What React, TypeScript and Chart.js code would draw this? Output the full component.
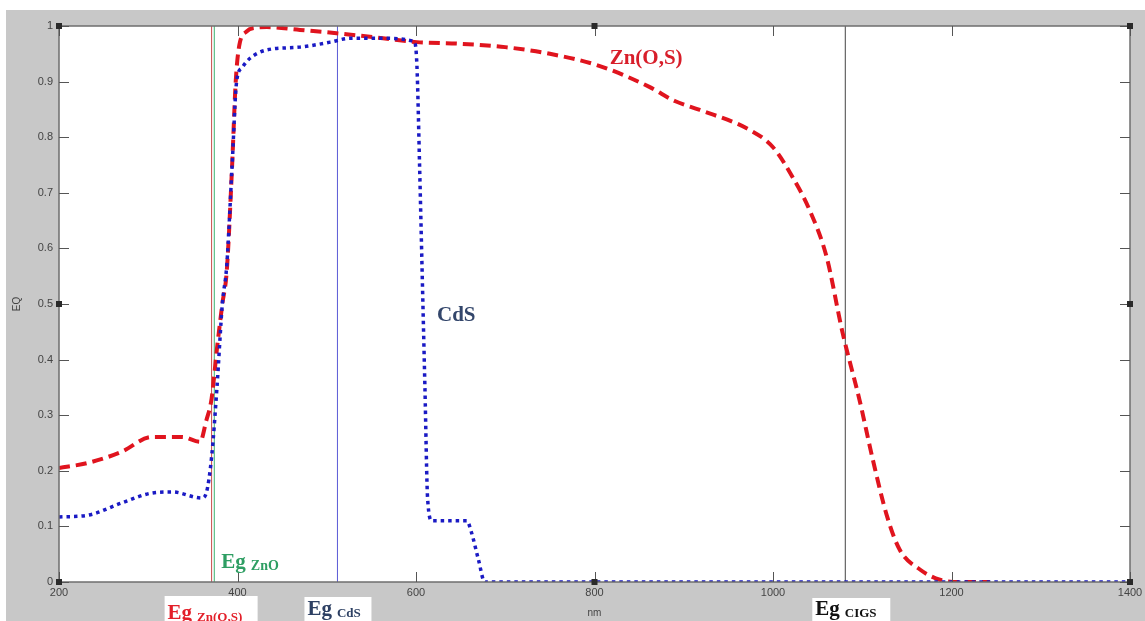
import React, { useEffect, useRef } from "react";
import { Chart, registerables } from "chart.js";
Chart.register(...registerables);

// Zn(O,S) buffer EQ
const znosWavelength = [200, 232, 270, 304, 338, 358, 365, 371, 377, 383, 388, 394, 398, 402, 410, 420, 433, 470, 511, 563, 601, 650, 700, 750, 806, 862, 890, 918, 974, 1000, 1022, 1041, 1060, 1078, 1097, 1112, 1128, 1142, 1165, 1187, 1210, 1243];
const znosEQ = [0.205, 0.214, 0.234, 0.261, 0.261, 0.252, 0.29, 0.33, 0.42, 0.5, 0.56, 0.75, 0.9, 0.965, 0.99, 0.997, 0.998, 0.993, 0.987, 0.978, 0.971, 0.968, 0.962, 0.95, 0.928, 0.89, 0.865, 0.849, 0.813, 0.782, 0.728, 0.669, 0.585, 0.448, 0.327, 0.219, 0.117, 0.058, 0.022, 0.004, 0, 0];

// CdS buffer EQ
const cdsWavelength = [200, 232, 270, 304, 327, 360, 365, 371, 377, 383, 388, 394, 399, 405, 414, 433, 470, 504, 526, 560, 598, 601, 604, 607, 610, 613, 618, 657, 662, 670, 677, 1400];
const cdsEQ = [0.117, 0.12, 0.142, 0.16, 0.162, 0.151, 0.16, 0.225, 0.35, 0.5, 0.57, 0.75, 0.9, 0.925, 0.942, 0.957, 0.962, 0.971, 0.978, 0.978, 0.972, 0.93, 0.75, 0.55, 0.35, 0.15, 0.11, 0.11, 0.09, 0.04, 0, 0];

// axis ticks
const xTicks = [200, 400, 600, 800, 1000, 1200, 1400];
const xTickLabels = ["200", "400", "600", "800", "1000", "1200", "1400"];
const yTicks = [0, 0.1, 0.2, 0.3, 0.4, 0.5, 0.6, 0.7, 0.8, 0.9, 1];
const yTickLabels = ["0", "0.1", "0.2", "0.3", "0.4", "0.5", "0.6", "0.7", "0.8", "0.9", "1"];

// band gap markers (nm)
const bandGapNames = ["Zn(O,S)", "ZnO", "CdS", "CIGS"];
const bandGapValues = [371, 374, 512, 1081];
const bandGapLineColors = ["#c84a4a", "#3cb371", "#5a5ad6", "#444444"];

// curve labels
const curveLabelTexts = ["Zn(O,S)", "CdS"];
const curveLabelX = [817, 623.5];
const curveLabelY = [0.932, 0.469];
const curveLabelColors = ["#d81e2a", "#33466b"];

const SERIF = '"Liberation Serif", "Times New Roman", serif';
const SANS = '"Liberation Sans", Arial, sans-serif';

const framePlugin = {
  id: "matlabFrame",
  beforeDraw(chart: any) {
    const { ctx, width, height, chartArea: a } = chart;
    ctx.save();
    ctx.fillStyle = "#ffffff";
    ctx.fillRect(0, 0, width, height);
    ctx.fillStyle = "#c8c8c8";
    ctx.fillRect(6, 10, width - 6, height - 10);
    ctx.fillStyle = "#ffffff";
    ctx.fillRect(a.left, a.top, a.right - a.left, a.bottom - a.top);
    ctx.restore();
  },
  afterDraw(chart: any) {
    const { ctx, chartArea: a } = chart;
    const xs = chart.scales.x;
    const ys = chart.scales.y;
    ctx.save();
    // box
    ctx.strokeStyle = "#6e6e6e";
    ctx.lineWidth = 1.5;
    ctx.strokeRect(a.left, a.top, a.right - a.left, a.bottom - a.top);
    // ticks inward
    ctx.strokeStyle = "#555";
    ctx.lineWidth = 1;
    const tl = 10;
    ctx.beginPath();
    xTicks.forEach((v) => {
      const px = Math.round(xs.getPixelForValue(v)) + 0.5;
      ctx.moveTo(px, a.bottom);
      ctx.lineTo(px, a.bottom - tl);
      ctx.moveTo(px, a.top);
      ctx.lineTo(px, a.top + tl);
    });
    yTicks.forEach((v) => {
      const py = Math.round(ys.getPixelForValue(v)) + 0.5;
      ctx.moveTo(a.left, py);
      ctx.lineTo(a.left + tl, py);
      ctx.moveTo(a.right, py);
      ctx.lineTo(a.right - tl, py);
    });
    ctx.stroke();
    // tick labels
    ctx.fillStyle = "#444";
    ctx.font = `11px ${SANS}`;
    ctx.textAlign = "center";
    ctx.textBaseline = "middle";
    xTicks.forEach((v, i) => {
      ctx.fillText(xTickLabels[i], xs.getPixelForValue(v), a.bottom + 11);
    });
    ctx.textAlign = "right";
    yTicks.forEach((v, i) => {
      ctx.fillText(yTickLabels[i], a.left - 6, ys.getPixelForValue(v));
    });
    // axis titles
    ctx.font = `10px ${SANS}`;
    ctx.textAlign = "center";
    ctx.fillText("nm", (a.left + a.right) / 2, a.bottom + 31);
    ctx.save();
    ctx.translate(17, (a.top + a.bottom) / 2);
    ctx.rotate(-Math.PI / 2);
    ctx.fillText("EQ", 0, 0);
    ctx.restore();
    // selection handles
    ctx.fillStyle = "#2a2a2a";
    const mx = (a.left + a.right) / 2;
    const my = (a.top + a.bottom) / 2;
    const hs = 6;
    [
      [a.left, a.top], [mx, a.top], [a.right, a.top],
      [a.left, my], [a.right, my],
      [a.left, a.bottom], [mx, a.bottom], [a.right, a.bottom],
    ].forEach(([hx, hy]) => ctx.fillRect(hx - hs / 2, hy - hs / 2, hs, hs));

    // curve labels
    ctx.textAlign = "left";
    ctx.textBaseline = "alphabetic";
    ctx.font = `bold 21px ${SERIF}`;
    curveLabelTexts.forEach((t, i) => {
      ctx.fillStyle = curveLabelColors[i];
      ctx.fillText(t, xs.getPixelForValue(curveLabelX[i]), ys.getPixelForValue(curveLabelY[i]));
    });

    const drawEg = (x: number, base: number, sub: string, color: string, subSize: number) => {
      ctx.fillStyle = color;
      ctx.font = `bold 21px ${SERIF}`;
      ctx.fillText("Eg", x, base);
      const w = ctx.measureText("Eg").width;
      ctx.font = `bold ${subSize}px ${SERIF}`;
      ctx.fillText(sub, x + w + 5, base + 2);
    };
    const box = (x0: number, y0: number, w: number) => {
      ctx.fillStyle = "#ffffff";
      ctx.fillRect(x0, y0, w, chart.height - y0);
    };
    // ZnO (inside plot)
    const pZnO = xs.getPixelForValue(bandGapValues[1]);
    drawEg(pZnO + 7, a.bottom - 14, bandGapNames[1], "#2e9e63", 14);
    // Zn(O,S)
    const pZnOS = xs.getPixelForValue(bandGapValues[0]);
    box(pZnOS - 47, a.bottom + 14, 93);
    drawEg(pZnOS - 44, a.bottom + 37, bandGapNames[0], "#e3202a", 13);
    // CdS
    const pCdS = xs.getPixelForValue(bandGapValues[2]);
    box(pCdS - 33, a.bottom + 15, 67);
    drawEg(pCdS - 30, a.bottom + 33, bandGapNames[2], "#2d4063", 13);
    // CIGS
    const pCIGS = xs.getPixelForValue(bandGapValues[3]);
    box(pCIGS - 33, a.bottom + 16, 78);
    drawEg(pCIGS - 30, a.bottom + 33, bandGapNames[3], "#111111", 13);
    ctx.restore();
  },
};

export default function App() {
  const ref = useRef<HTMLCanvasElement>(null);
  useEffect(() => {
    if (!ref.current) return;
    const gapSets = bandGapValues.map((v, i) => ({
      label: "Eg " + bandGapNames[i],
      data: [{ x: v, y: 0 }, { x: v, y: 1 }],
      borderColor: bandGapLineColors[i],
      borderWidth: 1,
      pointRadius: 0,
      tension: 0,
      order: 5,
    }));
    const chart = new Chart(ref.current, {
      type: "line",
      data: {
        datasets: [
          {
            label: "CdS",
            data: cdsWavelength.map((x, i) => ({ x, y: cdsEQ[i] })),
            borderColor: "#1a1ac4",
            borderWidth: 3.5,
            borderDash: [3.5, 4],
            borderCapStyle: "butt",
            pointRadius: 0,
            cubicInterpolationMode: "monotone",
            order: 0,
          },
          {
            label: "Zn(O,S)",
            data: znosWavelength.map((x, i) => ({ x, y: znosEQ[i] })),
            borderColor: "#e0141e",
            borderWidth: 4,
            borderDash: [11, 6],
            borderCapStyle: "butt",
            pointRadius: 0,
            cubicInterpolationMode: "monotone",
            order: 1,
          },
          ...gapSets,
        ] as any,
      },
      options: {
        animation: false,
        responsive: false,
        layout: { padding: { left: 59, top: 26, right: 15, bottom: 39 } },
        plugins: { legend: { display: false }, tooltip: { enabled: false } },
        scales: {
          x: { type: "linear", min: 200, max: 1400, display: false },
          y: { type: "linear", min: 0, max: 1, display: false },
        },
      },
      plugins: [framePlugin],
    });
    return () => chart.destroy();
  }, []);
  return (
    <div style={{ position: "absolute", left: 0, top: 0, width: 1145, height: 621 }}>
      <canvas ref={ref} width={1145} height={621} style={{ display: "block" }} />
    </div>
  );
}
